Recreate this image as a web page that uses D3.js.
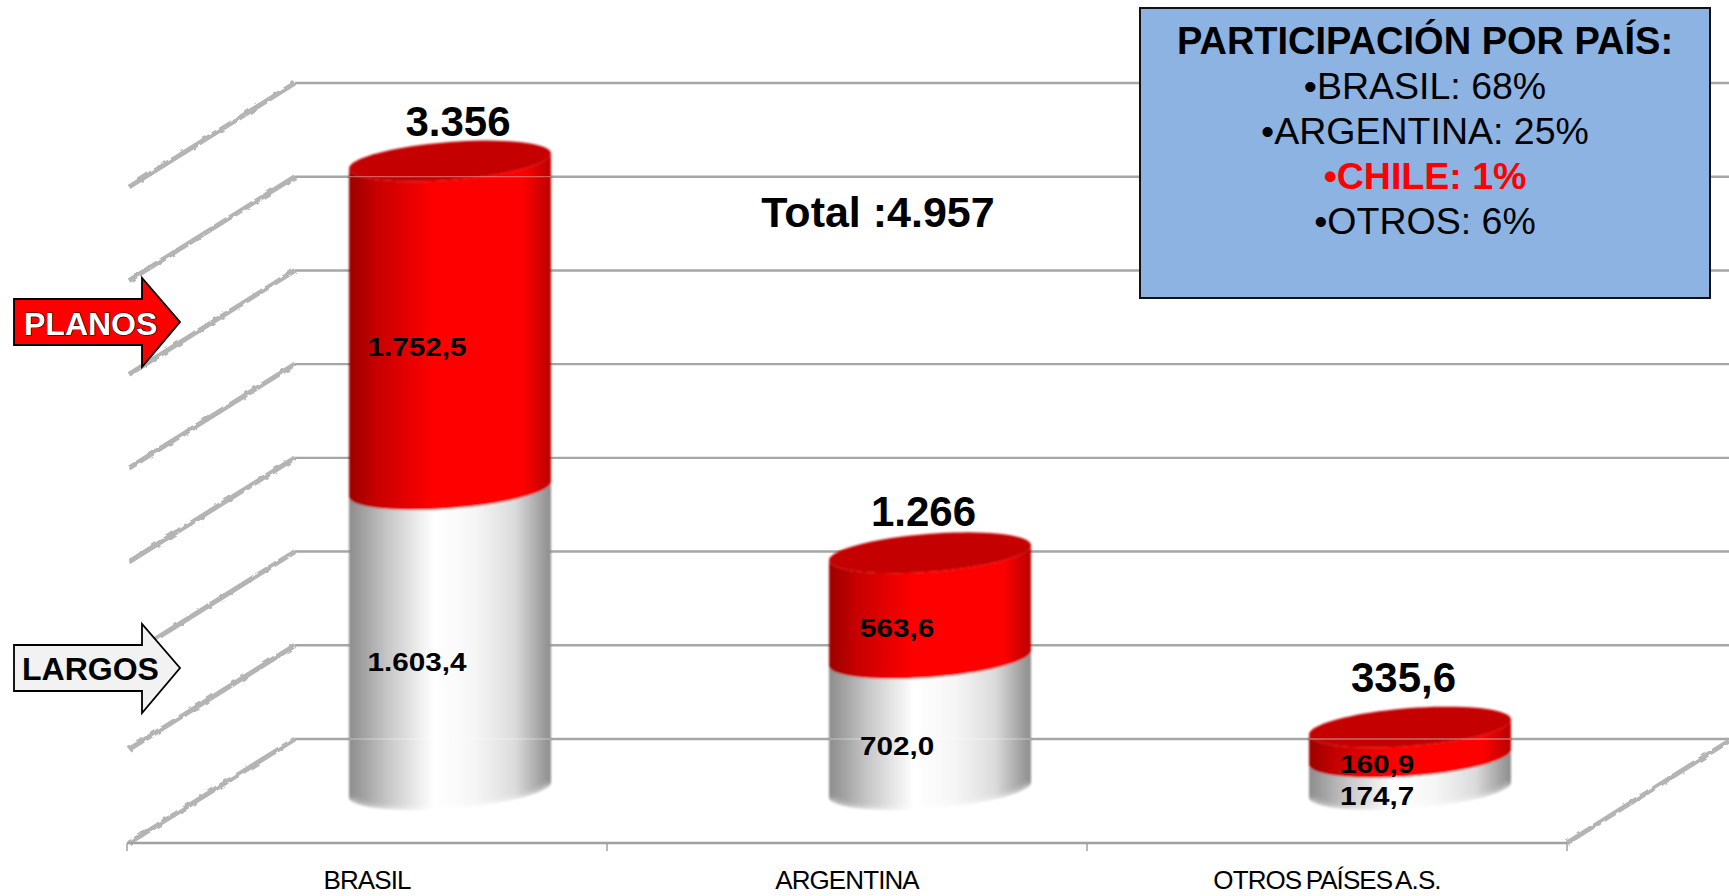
<!DOCTYPE html>
<html>
<head>
<meta charset="utf-8">
<script src="https://cdnjs.cloudflare.com/ajax/libs/d3/7.8.5/d3.min.js"></script>
<style>
  body { margin: 0; background: #fff; }
  svg { display: block; }
  text { font-family: "Liberation Sans", Arial, sans-serif; }
</style>
</head>
<body>
<svg id="chart"></svg>
<script>
const categories = ['BRASIL', 'ARGENTINA', 'OTROS PAÍSES A.S.']
const largos = [1603.4, 702.0, 174.7]
const planos = [1752.5, 563.6, 160.9]
const largosLabels = ['1.603,4', '702,0', '174,7']
const planosLabels = ['1.752,5', '563,6', '160,9']
const totalLabels = ['3.356', '1.266', '335,6']
const gridTicks = [0, 500, 1000, 1500, 2000, 2500, 3000, 3500]
const totalText = 'Total :4.957'
const shareTitle = 'PARTICIPACIÓN POR PAÍS:'
const shareLines = ['•BRASIL: 68%', '•ARGENTINA: 25%', '•CHILE: 1%', '•OTROS: 6%']

const width = 1729, height = 896
// oblique projection of the excel 3d box: back wall is shifted from the front edge
const floorY = 843, depthX = 168, depthY = 104
const plotLeft = 127, plotRight = 1567
const barLift = 51, barHalf = 101, ellipseY = 19, ellipseTilt = 7.5

const svg = d3.select('#chart').attr('width', width).attr('height', height)
const defs = svg.append('defs')

const x = d3.scaleBand().domain(categories).range([plotLeft, plotRight])
const y = d3.scaleLinear().domain([0, 3500]).range([floorY - depthY, 83])

const rows = categories.map((c, i) => ({category: c, largos: largos[i], planos: planos[i], i}))
const stacked = d3.stack().keys(['largos', 'planos'])(rows)

// Gradients
function addGradient(id, stops) {
    defs.append('linearGradient').attr('id', id)
        .selectAll('stop').data(stops).join('stop')
        .attr('offset', d => d[0]).attr('stop-color', d => d[1])
}
addGradient('redBody', [[0, '#9c0000'], [0.14, '#c80000'], [0.42, '#ff0000'], [0.86, '#ff0000'], [1, '#b80000']])
addGradient('whiteBody', [[0, '#8c8c8c'], [0.2, '#c9c9c9'], [0.42, '#ffffff'], [0.62, '#f6f6f6'], [0.82, '#dcdcdc'], [1, '#8c8c8c']])

defs.append('filter').attr('id', 'soft').append('feGaussianBlur').attr('stdDeviation', 1)
const rimBlur = defs.append('filter').attr('id', 'rimBlur')
    .attr('x', '-10%').attr('y', '-100%').attr('width', '120%').attr('height', '300%')
rimBlur.append('feGaussianBlur').attr('stdDeviation', 3.5)

const rough = defs.append('filter').attr('id', 'rough')
    .attr('filterUnits', 'userSpaceOnUse').attr('x', 0).attr('y', 0).attr('width', width).attr('height', height)
rough.append('feTurbulence').attr('type', 'fractalNoise').attr('baseFrequency', 0.14).attr('numOctaves', 1).attr('seed', 3).attr('result', 'n')
rough.append('feDisplacementMap').attr('in', 'SourceGraphic').attr('in2', 'n').attr('scale', 3.5).attr('result', 'd')
rough.append('feGaussianBlur').attr('in', 'd').attr('stdDeviation', 0.5)

// Walls and floor
const walls = svg.append('g')
walls.selectAll('.grid').data(gridTicks).join('line')
    .attr('class', 'grid')
    .attr('x1', plotLeft + depthX).attr('x2', width)
    .attr('y1', d => y(d)).attr('y2', d => y(d))
    .attr('stroke', '#a6a6a6').attr('stroke-width', 2.4)

walls.append('g').attr('filter', 'url(#rough)')
    .selectAll('line').data(gridTicks).join('line')
    .attr('x1', plotLeft + depthX).attr('y1', d => y(d))
    .attr('x2', plotLeft + 2).attr('y2', d => y(d) + depthY)
    .attr('stroke', '#b4b4b4').attr('stroke-width', 5)

walls.append('line')
    .attr('x1', plotRight).attr('y1', floorY).attr('x2', width).attr('y2', floorY - 102)
    .attr('stroke', '#b4b4b4').attr('stroke-width', 5).attr('filter', 'url(#rough)')

walls.append('line')
    .attr('x1', plotLeft).attr('x2', plotRight).attr('y1', floorY).attr('y2', floorY)
    .attr('stroke', '#a0a0a0').attr('stroke-width', 2.5)

const tickEdges = categories.map(c => x(c)).concat(plotRight)
walls.selectAll('.edge').data(tickEdges).join('line')
    .attr('class', 'edge')
    .attr('x1', d => d).attr('x2', d => d).attr('y1', floorY).attr('y2', floorY + 8)
    .attr('stroke', '#a0a0a0').attr('stroke-width', 1.5)

// Category labels
const axis = svg.append('g')
    .attr('transform', `translate(0,${floorY})`)
    .call(d3.axisBottom(x).tickSize(0).tickPadding(28))
axis.select('.domain').remove()
axis.selectAll('text')
    .attr('font-size', 26).attr('letter-spacing', -0.9).attr('word-spacing', -2)
    .attr('fill', '#000').style('font-family', '"Liberation Sans", Arial, sans-serif')

// Cylinders
const barX = c => x(c) + x.bandwidth() / 2 + depthX / 2 - 1
const barY = v => y(v) + barLift
const line = d3.line()
const arcAngles = d3.range(0, 41).map(i => i / 40 * Math.PI)

// lower half of the tilted ellipse, right to left
function lowerArc(cx, cy) {
    return arcAngles.map(t => [
        cx + barHalf * Math.cos(t),
        cy + ellipseY * Math.sin(t) - ellipseTilt * Math.cos(t)
    ])
}
function upperArc(cx, cy) {
    return arcAngles.map(t => [
        cx + barHalf * Math.cos(t),
        cy - ellipseY * Math.sin(t) - ellipseTilt * Math.cos(t)
    ])
}
function bodyPath(cx, v0, v1) {
    return line(lowerArc(cx, barY(v0)).concat(lowerArc(cx, barY(v1)).reverse())) + 'Z'
}

const bars = svg.append('g').attr('filter', 'url(#soft)')
const fills = {largos: 'url(#whiteBody)', planos: 'url(#redBody)'}

stacked.forEach(layer => {
    bars.selectAll('.seg-' + layer.key).data(layer).join('path')
        .attr('class', 'seg-' + layer.key)
        .attr('d', d => bodyPath(barX(d.data.category), d[0], d[1]))
        .attr('fill', fills[layer.key])
})

const totalsLayer = stacked[stacked.length - 1]

bars.selectAll('.cap').data(totalsLayer).join('path')
    .attr('class', 'cap')
    .attr('d', d => {
        const cx = barX(d.data.category), c = barY(d[1])
        return line(lowerArc(cx, c).concat(upperArc(cx, c).reverse())) + 'Z'
    })
    .attr('fill', '#c40000')

// the foot of each cylinder melts into the floor
svg.append('g').selectAll('path').data(rows).join('path')
    .attr('d', d => line(lowerArc(barX(d.category), barY(0) + 3)))
    .attr('fill', 'none').attr('stroke', '#fff').attr('stroke-width', 7)
    .attr('filter', 'url(#rimBlur)')

// gridlines show through the cylinders as a thin pale line
const paleLines = [[0, 0], [1, 0], [2, 0], [0, 3000]]
svg.append('g').selectAll('line').data(paleLines).join('line')
    .attr('x1', d => barX(categories[d[0]]) - barHalf)
    .attr('x2', d => barX(categories[d[0]]) + barHalf)
    .attr('y1', d => y(d[1])).attr('y2', d => y(d[1]))
    .attr('stroke', '#fff').attr('stroke-opacity', 0.45).attr('stroke-width', 1)
svg.append('line')
    .attr('x1', barX(categories[2]) - barHalf).attr('x2', barX(categories[2]) + barHalf)
    .attr('y1', y(0)).attr('y2', y(0))
    .attr('stroke', '#a6a6a6').attr('stroke-opacity', 0.5).attr('stroke-width', 1)

// Value labels, drawn a little wide like the stretched original
function drawSegLabels(layer, labels) {
    svg.append('g').selectAll('text').data(layer).join('text')
        .attr('transform', d => {
            const ly = (barY(d[0]) + barY(d[1])) / 2 + 31
            return `translate(${barX(d.data.category) - 33},${ly}) scale(1.12,1)`
        })
        .attr('text-anchor', 'middle').attr('font-size', 26.5).attr('font-weight', 'bold')
        .text((d, i) => labels[i])
}
drawSegLabels(stacked[0], largosLabels)
drawSegLabels(stacked[1], planosLabels)

const totalNudge = [[8, -25], [-6.5, -27], [-6.5, -35]]
svg.append('g').selectAll('text').data(totalsLayer).join('text')
    .attr('x', (d, i) => barX(d.data.category) + totalNudge[i][0])
    .attr('y', (d, i) => barY(d[1]) + totalNudge[i][1])
    .attr('text-anchor', 'middle').attr('font-size', 42).attr('font-weight', 'bold')
    .text((d, i) => totalLabels[i])

svg.append('text')
    .attr('x', 878).attr('y', 227)
    .attr('text-anchor', 'middle').attr('font-size', 43).attr('font-weight', 'bold')
    .text(totalText)

// Share box
svg.append('rect')
    .attr('x', 1140).attr('y', 8).attr('width', 570).attr('height', 290)
    .attr('fill', '#8db3e2').attr('stroke', '#111').attr('stroke-width', 2)

svg.append('text')
    .attr('x', 1425).attr('y', 54)
    .attr('text-anchor', 'middle').attr('font-size', 38).attr('font-weight', 'bold')
    .text(shareTitle)

svg.append('g').selectAll('text').data(shareLines).join('text')
    .attr('x', 1425).attr('y', (d, i) => 99 + i * 45)
    .attr('text-anchor', 'middle').attr('font-size', 37.5)
    .attr('font-weight', d => d.includes('CHILE') ? 'bold' : 'normal')
    .attr('fill', d => d.includes('CHILE') ? '#ff0000' : '#000')
    .text(d => d)

// Series arrows
function arrow(top, fill) {
    const p = [[14, top + 21], [142, top + 21], [142, top], [180, top + 44], [142, top + 89], [142, top + 67], [14, top + 67]]
    svg.append('path')
        .attr('d', line(p) + 'Z')
        .attr('fill', fill).attr('stroke', '#000').attr('stroke-width', 1.8)
}
arrow(278, '#ff0000')
arrow(624, '#f2f2f2')

svg.append('text')
    .attr('x', 24).attr('y', 335)
    .attr('font-size', 32).attr('font-weight', 'bold')
    .attr('fill', '#fff').attr('stroke', '#000').attr('stroke-width', 1.2).attr('paint-order', 'stroke')
    .text('PLANOS')

svg.append('text')
    .attr('x', 22).attr('y', 680)
    .attr('font-size', 32).attr('font-weight', 'bold')
    .text('LARGOS')
</script>
</body>
</html>
